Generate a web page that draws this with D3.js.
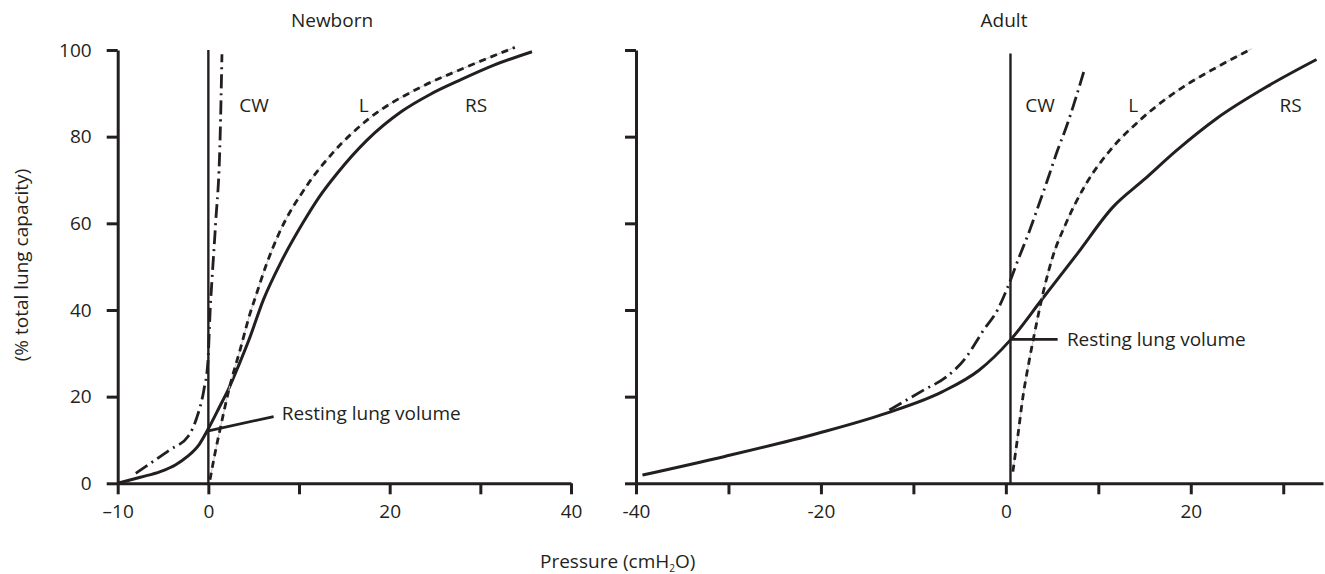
<!DOCTYPE html>
<html>
<head>
<meta charset="utf-8">
<script src="https://cdn.jsdelivr.net/npm/d3@7"></script>
<style>
  html, body { margin: 0; padding: 0; background: #ffffff; }
  svg { display: block; }
  text { font-family: "Open Sans", "Noto Sans", sans-serif; fill: #231f20; }
</style>
</head>
<body>
<svg id="chart" width="1325" height="574"></svg>
<script>
// ---------------- DATA ----------------
const panelTitles = ["Newborn", "Adult"];
const yTicks = [0, 20, 40, 60, 80, 100];
const newbornXTicks = [-10, 0, 10, 20, 30, 40];
const newbornXLabels = {"-10": "\u201310", "0": "0", "20": "20", "40": "40"};
const adultXTicks = [-40, -30, -20, -10, 0, 10, 20, 30];
const adultXLabels = {"-40": "-40", "-20": "-20", "0": "0", "20": "20"};

// Newborn curves [pressure cmH2O, % total lung capacity]
const newbornRS = [[-10,0],[-7.5,1.4],[-5.3,2.7],[-3.6,4.3],[-2.3,6.2],[-1.0,9.0],[0.1,13],[1.2,17.5],[2.35,22.3],[3.4,27.5],[4.46,33],[6.1,42.5],[8.0,51],[10.4,60],[12.2,66],[14.2,71.5],[17.5,79.2],[21.3,85.8],[24.5,89.8],[27.7,93],[31.5,96.5],[35.7,99.6]];
const newbornL = [[0.18,0.8],[0.73,6.9],[1.36,13.1],[2.3,21.9],[3.5,30.8],[4.6,39.2],[5.2,43],[6.4,50.5],[7.8,57.7],[10.8,68.5],[13.7,76.2],[17.5,83.8],[23.5,91.5],[27.7,95.4],[33.8,100.6]];
const newbornCW = [[-8,2.3],[-6.4,4.6],[-4.2,7.8],[-2.2,10.9],[-1.3,15],[-0.5,21.5],[-0.05,28],[0.2,40],[0.4,47],[0.8,60],[1.3,80],[1.5,99]];
const newbornZero = [[0,0],[0,100]];
const newbornResting = [[0,12.1],[7.2,15.4]];

// Adult curves
const adultRS = [[-39.3,1.9],[-30.4,6.2],[-20.4,11.5],[-12.9,16.2],[-6.9,21.1],[-2.9,26.1],[0.5,33.1],[3.85,42.3],[7.7,52.9],[11.6,63.8],[14.9,70],[18.5,76.9],[22.8,84.2],[28.2,91.5],[33.6,97.8]];
const adultL = [[0.76,2.7],[1.3,11],[1.85,20],[2.5,28],[3.1,34.6],[4.1,44.6],[5.1,52.5],[6.4,59.5],[8.7,69.2],[11.3,76.9],[14.5,83.8],[19.2,91.5],[22.8,96],[26.6,100.3]];
const adultCW = [[-12.6,16.9],[-8.9,21.5],[-6.4,24.6],[-4.4,28.8],[-2.4,35.4],[-0.9,40],[0.15,45],[1.4,52],[2.6,58.5],[3.3,62.7],[4.5,70],[5.6,76.9],[6.5,82],[8.5,95.5]];
const adultZero = [[0.5,0],[0.5,99.2]];
const adultResting = [[0.5,33.2],[5.6,33.2]];

// label anchors [text, pressure, value]
const newbornLabels = [["CW",3.4,85.7],["L",16.6,85.7],["RS",28.3,85.7],["Resting lung volume",8.1,14.6]];
const adultLabels = [["CW",2.1,85.7],["L",13.25,85.7],["RS",29.6,85.7],["Resting lung volume",6.6,31.6]];

// ---------------- LAYOUT ----------------
const ink = "#231f20";
const svg = d3.select("#chart");
const y = d3.scaleLinear().domain([0, 100]).range([483.3, 50]);
const xN = d3.scaleLinear().domain([-10, 40]).range([117.7, 571]);
const xA = d3.scaleLinear().domain([-40, 34.3]).range([636, 1323]);

function drawPanel(x, xTicks, xLabels, showYLabels, title, titleX, curves, labels) {
  const g = svg.append("g");
  const xAxis = d3.axisBottom(x).tickValues(xTicks).tickSize(11).tickSizeOuter(0).tickPadding(10)
    .tickFormat(d => xLabels[String(d)] || "");
  const gx = g.append("g").attr("transform", `translate(0,${y(0)})`).call(xAxis);
  const yAxis = d3.axisLeft(y).tickValues(yTicks).tickSize(11).tickSizeOuter(0).tickPadding(15)
    .tickFormat(d => showYLabels ? String(d) : "");
  const gy = g.append("g").attr("transform", `translate(${x.range()[0]},0)`).call(yAxis);
  [gx, gy].forEach(a => {
    a.select(".domain").attr("stroke", ink).attr("stroke-width", 3);
    a.selectAll(".tick line").attr("stroke", ink).attr("stroke-width", 3);
    a.selectAll(".tick text").attr("fill", ink).style("font-size", "19px")
      .style("font-family", '"Open Sans", sans-serif');
  });

  g.append("text").attr("x", titleX).attr("y", 27).attr("text-anchor", "middle")
    .style("font-size", "19px").text(title);

  curves.forEach(c => {
    const gen = d3.line().x(d => x(d[0])).y(d => y(d[1]))
      .curve(c.smooth ? d3.curveMonotoneX : d3.curveLinear);
    if (c.under) {
      g.append("path").attr("d", gen(c.data)).attr("fill", "none")
        .attr("stroke", "#c4c4c4").attr("stroke-width", 1);
    }
    g.append("path").attr("d", gen(c.data)).attr("fill", "none")
      .attr("stroke", ink).attr("stroke-width", c.w)
      .attr("stroke-dasharray", c.dash || null);
  });

  labels.forEach(l => {
    g.append("text").attr("x", x(l[1])).attr("y", y(l[2]))
      .style("font-size", "19px").text(l[0]);
  });
}

drawPanel(xN, newbornXTicks, newbornXLabels, true, panelTitles[0], 332, [
  {data: newbornZero, w: 2.4},
  {data: newbornRS, w: 3, smooth: true},
  {data: newbornL, w: 2.8, smooth: true, dash: "7,5", under: true},
  {data: newbornCW, w: 2.8, smooth: true, dash: "14,5,2,5"},
  {data: newbornResting, w: 2.8}
], newbornLabels);

drawPanel(xA, adultXTicks, adultXLabels, false, panelTitles[1], 1004, [
  {data: adultZero, w: 2.4},
  {data: adultRS, w: 3, smooth: true},
  {data: adultL, w: 2.8, smooth: true, dash: "7,5", under: true},
  {data: adultCW, w: 2.8, smooth: true, dash: "14,5,2,5"},
  {data: adultResting, w: 2.8}
], adultLabels);

svg.append("text").attr("transform", "translate(28,265) rotate(-90)")
  .attr("text-anchor", "middle").style("font-size", "19px")
  .text("(% total lung capacity)");

const xt = svg.append("text").attr("x", 540).attr("y", 568).style("font-size", "19px");
xt.append("tspan").text("Pressure (cmH");
xt.append("tspan").attr("dy", 4).style("font-size", "10px").text("2");
xt.append("tspan").attr("dy", -4).text("O)");
</script>
</body>
</html>
